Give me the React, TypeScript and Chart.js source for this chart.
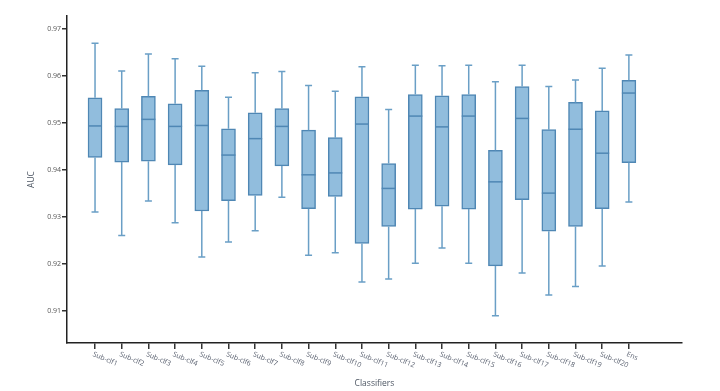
import React, { useEffect, useRef } from "react";
import { Chart, registerables } from "chart.js";

Chart.register(...registerables);

const categories = [
  "Sub-clf1", "Sub-clf2", "Sub-clf3", "Sub-clf4", "Sub-clf5", "Sub-clf6", "Sub-clf7",
  "Sub-clf8", "Sub-clf9", "Sub-clf10", "Sub-clf11", "Sub-clf12", "Sub-clf13", "Sub-clf14",
  "Sub-clf15", "Sub-clf16", "Sub-clf17", "Sub-clf18", "Sub-clf19", "Sub-clf20", "Ens",
];

const whiskerHigh = [
  0.9669, 0.961, 0.9646, 0.9636, 0.962, 0.9554, 0.9606, 0.9609, 0.9579, 0.9567, 0.9619,
  0.9528, 0.9622, 0.9621, 0.9622, 0.9587, 0.9622, 0.9577, 0.9591, 0.9616, 0.9644,
];
const q3 = [
  0.9553, 0.953, 0.9556, 0.954, 0.9569, 0.9487, 0.9521, 0.953, 0.9484, 0.9468, 0.9555,
  0.9413, 0.956, 0.9557, 0.956, 0.9441, 0.9577, 0.9485, 0.9543, 0.9525, 0.959,
];
const median = [
  0.9493, 0.9492, 0.9507, 0.9492, 0.9494, 0.9431, 0.9466, 0.9492, 0.9389, 0.9393, 0.9497,
  0.936, 0.9514, 0.9491, 0.9514, 0.9374, 0.9509, 0.935, 0.9486, 0.9435, 0.9563,
];
const q1 = [
  0.9426, 0.9416, 0.9418, 0.941, 0.9312, 0.9334, 0.9345, 0.9408, 0.9317, 0.9343, 0.9243,
  0.9279, 0.9316, 0.9322, 0.9316, 0.9195, 0.9336, 0.9269, 0.9279, 0.9317, 0.9415,
];
const whiskerLow = [
  0.931, 0.926, 0.9333, 0.9287, 0.9214, 0.9246, 0.927, 0.9341, 0.9218, 0.9223, 0.9161,
  0.9167, 0.9201, 0.9233, 0.9201, 0.9089, 0.918, 0.9133, 0.9151, 0.9195, 0.9331,
];
const yTicks = [0.91, 0.92, 0.93, 0.94, 0.95, 0.96, 0.97];

const FONT = "'Open Sans', 'DejaVu Sans', sans-serif";
const BOX_FILL = "#91bddd";
const BOX_EDGE = "#4f87b4";
const WHISKER = "#6a9fc6";
const BOX_W = 14;
const CAP_W = 7;

const boxPlugin = {
  id: "boxExtras",
  afterDatasetsDraw(chart: any) {
    const { ctx, scales } = chart;
    const xs = scales.x;
    const ys = scales.y;
    ctx.save();
    ctx.lineWidth = 1.5;
    for (let i = 0; i < categories.length; i++) {
      const x = xs.getPixelForValue(i);
      const yHi = ys.getPixelForValue(whiskerHigh[i]);
      const yQ3 = ys.getPixelForValue(q3[i]);
      const yMed = ys.getPixelForValue(median[i]);
      const yQ1 = ys.getPixelForValue(q1[i]);
      const yLo = ys.getPixelForValue(whiskerLow[i]);
      ctx.strokeStyle = WHISKER;
      ctx.beginPath();
      ctx.moveTo(x, yQ3);
      ctx.lineTo(x, yHi);
      ctx.moveTo(x - CAP_W / 2, yHi);
      ctx.lineTo(x + CAP_W / 2, yHi);
      ctx.moveTo(x, yQ1);
      ctx.lineTo(x, yLo);
      ctx.moveTo(x - CAP_W / 2, yLo);
      ctx.lineTo(x + CAP_W / 2, yLo);
      ctx.stroke();
      ctx.strokeStyle = BOX_EDGE;
      ctx.beginPath();
      ctx.moveTo(x - BOX_W / 2, yMed);
      ctx.lineTo(x + BOX_W / 2, yMed);
      ctx.stroke();
    }
    ctx.restore();
  },
  afterDraw(chart: any) {
    const { ctx, scales, chartArea } = chart;
    const xs = scales.x;
    ctx.save();
    ctx.fillStyle = "#5a6170";
    ctx.font = `7px ${FONT}`;
    ctx.textAlign = "left";
    ctx.textBaseline = "middle";
    for (let i = 0; i < categories.length; i++) {
      const x = xs.getPixelForValue(i);
      ctx.save();
      ctx.translate(x - 2, chartArea.bottom + 11);
      ctx.rotate((23 * Math.PI) / 180);
      ctx.fillText(categories[i], 0, 0);
      ctx.restore();
    }
    ctx.fillStyle = "#4d5663";
    ctx.font = `8.5px ${FONT}`;
    ctx.textAlign = "center";
    ctx.textBaseline = "middle";
    ctx.fillText("Classifiers", (chartArea.left + chartArea.right) / 2, 384);
    ctx.save();
    ctx.translate(32, (chartArea.top + chartArea.bottom) / 2);
    ctx.rotate(-Math.PI / 2);
    ctx.fillText("AUC", 0, 0);
    ctx.restore();
    ctx.restore();
  },
};

export default function App() {
  const ref = useRef<HTMLCanvasElement | null>(null);
  useEffect(() => {
    document.body.style.margin = "0";
    const canvas = ref.current;
    if (!canvas) return;
    const chart = new Chart(canvas, {
      type: "bar",
      data: {
        datasets: [
          {
            data: categories.map((_, i) => ({ x: i, y: [q1[i], q3[i]] })) as any,
            backgroundColor: BOX_FILL,
            borderColor: BOX_EDGE,
            borderWidth: 1.5,
            borderSkipped: false,
            barThickness: BOX_W,
          },
        ],
      },
      options: {
        responsive: false,
        animation: false,
        layout: { padding: { top: 16, right: 38, bottom: 0, left: 0 } },
        plugins: { legend: { display: false }, tooltip: { enabled: false } },
        scales: {
          x: {
            type: "linear",
            offset: false,
            min: -1.05,
            max: 21.99,
            afterBuildTicks(scale: any) {
              scale.ticks = categories.map((_, i) => ({ value: i }));
            },
            afterFit(scale: any) {
              scale.height = 48;
            },
            ticks: { display: false },
            grid: {
              display: true,
              offset: false,
              drawOnChartArea: false,
              drawTicks: true,
              tickLength: 6,
              color: "#333",
              lineWidth: 1.5,
            },
            border: { display: true, color: "#222", width: 1.5 },
          },
          y: {
            type: "linear",
            min: 0.9031,
            max: 0.9727,
            afterBuildTicks(scale: any) {
              scale.ticks = yTicks.map((v) => ({ value: v }));
            },
            afterFit(scale: any) {
              scale.width = 67;
            },
            ticks: {
              font: { family: FONT, size: 7 },
              color: "#555",
              padding: 1,
              callback: (v: any) => Number(v).toFixed(2),
            },
            grid: {
              display: true,
              drawOnChartArea: false,
              drawTicks: true,
              tickLength: 5,
              color: "#333",
              lineWidth: 1.5,
            },
            border: { display: true, color: "#222", width: 1.5 },
          },
        },
      },
      plugins: [boxPlugin],
    });
    return () => chart.destroy();
  }, []);
  return (
    <div style={{ width: 720, height: 391, background: "#fff" }}>
      <canvas ref={ref} width={720} height={391} />
    </div>
  );
}
